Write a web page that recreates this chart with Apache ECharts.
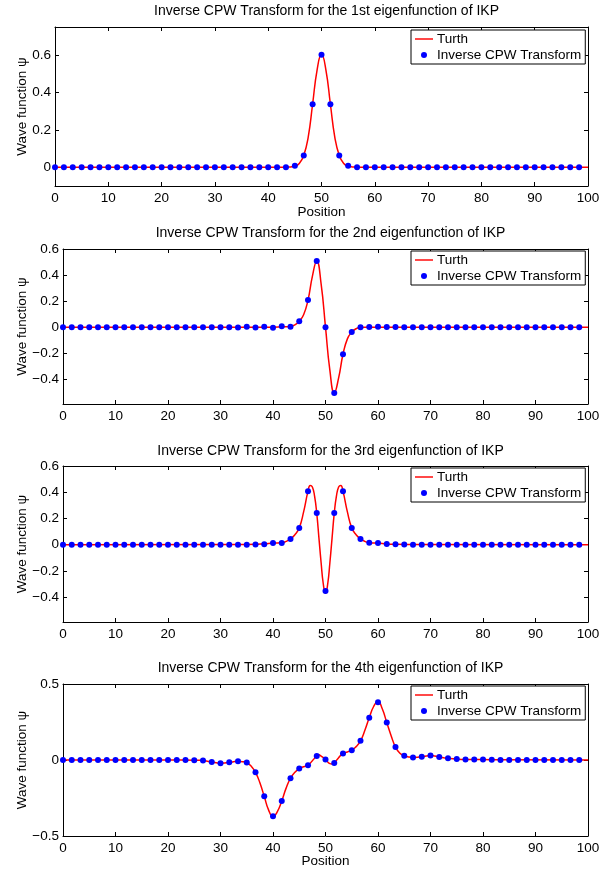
<!DOCTYPE html>
<html><head><meta charset="utf-8">
<script src="https://cdn.jsdelivr.net/npm/echarts@6/dist/echarts.min.js"></script>
<style>html,body{margin:0;padding:0;background:#fff}#c{width:615px;height:869px}</style>
</head><body><div id="c"></div>
<script>
// ---- data ----
const titles = [
  'Inverse CPW Transform for the 1st eigenfunction of IKP',
  'Inverse CPW Transform for the 2nd eigenfunction of IKP',
  'Inverse CPW Transform for the 3rd eigenfunction of IKP',
  'Inverse CPW Transform for the 4th eigenfunction of IKP'
];
const xTicks = [0,10,20,30,40,50,60,70,80,90,100];
const yTicks1 = [0,0.2,0.4,0.6];
const yTicks2 = [-0.4,-0.2,0,0.2,0.4,0.6];
const yTicks3 = [-0.4,-0.2,0,0.2,0.4,0.6];
const yTicks4 = [-0.5,0,0.5];

const positions = [0,1.667,3.333,5,6.667,8.333,10,11.667,13.333,15,16.667,18.333,20,21.667,23.333,25,26.667,28.333,30,31.667,33.333,35,36.667,38.333,40,41.667,43.333,45,46.667,48.333,50,51.667,53.333,55,56.667,58.333,60,61.667,63.333,65,66.667,68.333,70,71.667,73.333,75,76.667,78.333,80,81.667,83.333,85,86.667,88.333,90,91.667,93.333,95,96.667,98.333];

const dots1 = [0,0,0,0,0,0,0,0,0,0,0,0,0,0,0,0,0,0,0,0,0,0,0,0,0,0,0,
  0.008,0.063,0.337,0.602,0.337,0.063,0.008,
  0,0,0,0,0,0,0,0,0,0,0,0,0,0,0,0,0,0,0,0,0,0,0,0,0,0];
const dots2 = [0,0,0,0,0,0,0,0,0,0,0,0,0,0,0,0,0,0,0,
  0,-0.003,0.003,-0.003,0.003,-0.004,0.006,0.003,0.046,0.208,0.508,0,-0.505,-0.208,-0.038,0,0.001,0.003,0.002,0.001,
  0,0,0,0,0,0,0,0,0,0,0,0,0,0,0,0,0,0,0,0,0];
const dots3 = [0,0,0,0,0,0,0,0,0,0,0,0,0,0,0,0,0,0,0,0,0,0,
  0.002,0.004,0.013,0.013,0.044,0.128,0.408,0.241,-0.354,0.241,0.408,0.128,0.044,0.015,0.013,0.005,0.003,0.002,
  0,0,0,0,0,0,0,0,0,0,0,0,0,0,0,0,0,0,0,0];
const dots4 = [0,0,0,0,0,0,0,0,0,0,0,0,0,0,0,
  -0.001,-0.004,-0.013,-0.021,-0.015,-0.009,-0.017,-0.081,-0.239,-0.370,-0.269,-0.120,-0.056,-0.034,0.026,0.004,-0.019,0.043,0.064,0.126,0.278,0.380,0.246,0.085,0.028,0.017,0.021,0.030,0.019,0.011,0.006,0.004,0.004,0.003,0.002,
  0,0,0,0,0,0,0,0,0,0];

const truthX1 = [0,42.5,43.33,44.17,45,45.83,46.67,47.5,48.33,49.17,50,50.83,51.67,52.5,53.33,54.17,55,55.83,56.67,57.5,100];
const truthY1 = [0,0,0.001,0.002,0.005,0.02,0.063,0.16,0.337,0.52,0.605,0.52,0.337,0.16,0.063,0.02,0.005,0.002,0.001,0,0];
const truthX2 = [0,40,41.67,42.5,43.33,44.17,45,45.83,46.67,47.5,48.33,49.17,50,50.83,51.67,52.5,53.33,54.17,55,55.83,56.67,57.5,60,100];
const truthY2 = [0,0,0.002,0.003,0.006,0.018,0.046,0.095,0.208,0.39,0.508,0.33,0,-0.33,-0.505,-0.39,-0.208,-0.09,-0.038,-0.012,-0.003,0,0,0];
const truthX3 = [0,35,36.67,38.33,40,41.67,42.5,43.33,44.17,45,45.83,46.67,47.08,47.5,47.92,48.33,48.75,49.17,49.58,50,50.42,50.83,51.25,51.67,52.08,52.5,52.92,53.33,54.17,55,55.83,56.67,57.5,58.33,60,61.67,63.33,65,100];
const truthY3 = [0,0.002,0.003,0.006,0.012,0.014,0.025,0.044,0.075,0.128,0.25,0.408,0.452,0.44,0.37,0.241,0.05,-0.14,-0.30,-0.37,-0.30,-0.14,0.05,0.241,0.37,0.44,0.452,0.408,0.25,0.128,0.075,0.044,0.025,0.015,0.012,0.005,0.003,0.002,0];
const truthX4 = [0,15,20,25,25.83,26.67,27.5,28.33,29.17,30,30.83,31.67,32.5,33.33,34.17,35,35.83,36.67,37.5,38.33,39.17,40,40.83,41.67,42.5,43.33,44.17,45,45.83,46.67,47.5,48.33,48.75,49.17,50,50.83,51.25,51.67,52.5,53.33,54.17,55,55.83,56.67,57.5,58.33,59.17,60,60.83,61.67,62.5,63.33,64.17,65,65.83,66.67,67.5,68.33,69.17,70,70.83,71.67,72.5,73.33,75,76.67,78.33,80,83.33,100];
const truthY4 = [0,0,0,-0.001,-0.002,-0.004,-0.008,-0.013,-0.018,-0.021,-0.019,-0.015,-0.011,-0.009,-0.011,-0.017,-0.040,-0.081,-0.150,-0.239,-0.330,-0.372,-0.340,-0.269,-0.185,-0.120,-0.080,-0.056,-0.044,-0.034,-0.005,0.026,0.034,0.025,0.004,-0.024,-0.026,-0.019,0.015,0.043,0.053,0.064,0.088,0.126,0.195,0.278,0.352,0.385,0.335,0.246,0.160,0.085,0.045,0.028,0.020,0.017,0.018,0.021,0.026,0.030,0.026,0.019,0.015,0.011,0.006,0.004,0.004,0.003,0.001,0];

// ---- layout ----
const FONT = "'Liberation Sans', Arial, Helvetica, sans-serif";
const FS = 13.5;
const panels = [
  {left:55, right:588, top:27, bottom:186, ymin:-0.1, ymax:0.75, yt:yTicks1, dots:dots1, tx:truthX1, ty:truthY1, xname:true, nameGapX:19, nameGapY:26, titleTop:-1, legTop:30},
  {left:63, right:588, top:249, bottom:404, ymin:-0.59, ymax:0.6, yt:yTicks2, dots:dots2, tx:truthX2, ty:truthY2, xname:false, nameGapY:34, titleTop:221, legTop:251},
  {left:63, right:588, top:466, bottom:622, ymin:-0.59, ymax:0.6, yt:yTicks3, dots:dots3, tx:truthX3, ty:truthY3, xname:false, nameGapY:34, titleTop:439, legTop:468},
  {left:63, right:588, top:684, bottom:840, ymin:-0.5, ymax:0.5, yt:yTicks4, dots:dots4, tx:truthX4, ty:truthY4, xname:true, nameGapX:18, nameGapY:34, titleTop:656, legTop:686}
];

const fmtY = v => (v === 0 ? '0' : String(v).replace('-', '\u2212'));
const axisLine = {show:true, onZero:false, lineStyle:{color:'#000', width:1}};
const tickIn = {show:true, inside:true, length:4, lineStyle:{color:'#000', width:1}};

const grid = [], xAxis = [], yAxis = [], series = [], title = [], legend = [];
panels.forEach((p, k) => {
  grid.push({left:p.left, top:p.top, width:p.right-p.left, height:p.bottom-p.top, containLabel:false});
  xAxis.push({type:'value', gridIndex:k, min:0, max:100, interval:10, position:'bottom',
    axisLine, axisTick:tickIn, splitLine:{show:false},
    axisLabel:{show:true, color:'#000', fontSize:FS, fontFamily:FONT, margin:5, customValues:xTicks},
    name: p.xname ? 'Position' : '', nameLocation:'middle', nameGap:p.nameGapX || 15, nameMoveOverlap:false,
    nameTextStyle:{color:'#000', fontSize:FS, fontFamily:FONT}});
  xAxis.push({type:'value', gridIndex:k, min:0, max:100, interval:10, position:'top',
    axisLine, axisTick:tickIn, splitLine:{show:false}, axisLabel:{show:false}});
  yAxis.push({type:'value', gridIndex:k, min:p.ymin, max:p.ymax, position:'left',
    axisLine, splitLine:{show:false},
    axisTick:Object.assign({}, tickIn, {customValues:p.yt}),
    axisLabel:{show:true, color:'#000', fontSize:FS, fontFamily:FONT, margin:4, customValues:p.yt, formatter:fmtY},
    name:'Wave function \u03c8', nameLocation:'middle', nameGap:p.nameGapY, nameMoveOverlap:false,
    nameTextStyle:{color:'#000', fontSize:FS, fontFamily:FONT}});
  yAxis.push({type:'value', gridIndex:k, min:p.ymin, max:p.ymax, position:'right',
    axisLine, splitLine:{show:false},
    axisTick:Object.assign({}, tickIn, {customValues:p.yt}),
    axisLabel:{show:false}});
  series.push({type:'line', name:'Turth', xAxisIndex:2*k, yAxisIndex:2*k,
    data:p.tx.map((x, i) => [x, p.ty[i]]), smooth:0.5, symbol:'none',
    lineStyle:{color:'#ff0000', width:1.5}, itemStyle:{color:'#ff0000'}, z:2, animation:false});
  series.push({type:'scatter', name:'Inverse CPW Transform', xAxisIndex:2*k, yAxisIndex:2*k,
    data:positions.map((x, i) => [x, p.dots[i]]), symbol:'circle', symbolSize:6,
    itemStyle:{color:'#0000ff', opacity:1}, z:3, animation:false, clip:false});
  title.push({text:titles[k], left:(p.left + p.right)/2, top:p.titleTop, textAlign:'center',
    textStyle:{color:'#000', fontSize:14, fontWeight:'normal', fontFamily:FONT}});
  legend.push({data:[{name:'Turth', icon:'path://M0,0H20V1.6H0Z'}, {name:'Inverse CPW Transform', icon:'circle'}],
    orient:'vertical', left:411, top:p.legTop,
    backgroundColor:'#fff', borderColor:'#000', borderWidth:1, padding:[2,4,2,4], itemGap:2,
    itemWidth:18, itemHeight:6, selectedMode:false,
    itemStyle:{opacity:1},
    textStyle:{color:'#000', fontSize:FS, fontFamily:FONT, padding:[0,0,0,-1]}});
});

const chart = echarts.init(document.getElementById('c'), null, {renderer:'canvas'});
chart.setOption({backgroundColor:'#fff', animation:false, title, legend, grid, xAxis, yAxis, series});
</script></body></html>
